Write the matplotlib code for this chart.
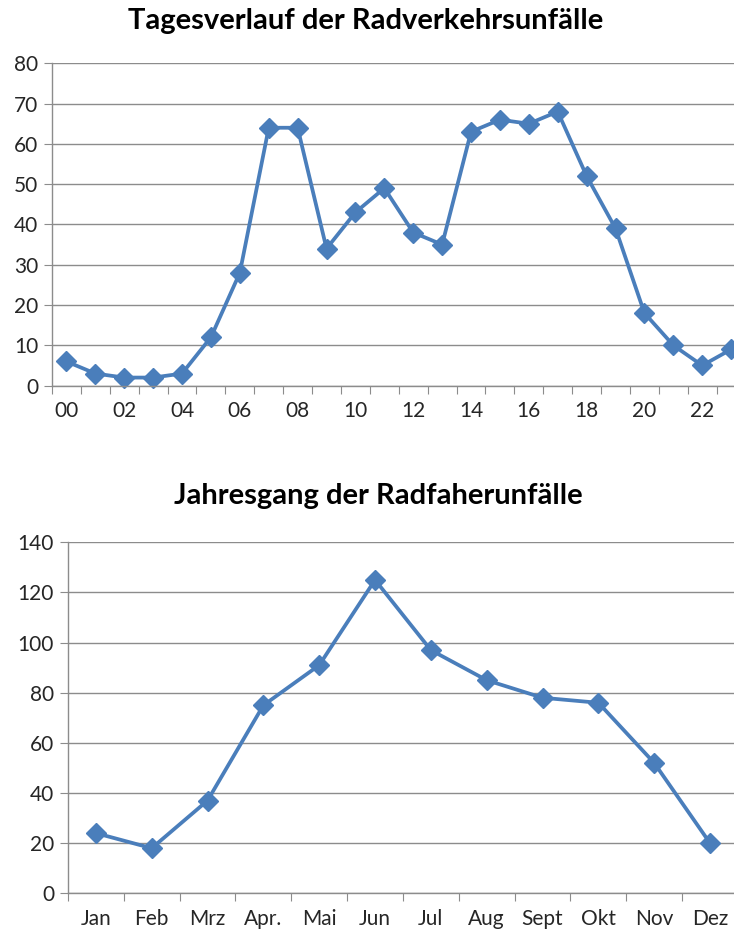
import numpy as np
import matplotlib.pyplot as plt

plt.rcParams['font.family'] = ['Lato', 'DejaVu Sans']

# Tagesverlauf (Stunden)
hours = ['00', '01', '02', '03', '04', '05', '06', '07', '08', '09', '10', '11',
         '12', '13', '14', '15', '16', '17', '18', '19', '20', '21', '22', '23']
hour_values = [6, 3, 2, 2, 3, 12, 28, 64, 64, 34, 43, 49,
               38, 35, 63, 66, 65, 68, 52, 39, 18, 10, 5, 9]

# Jahresgang (Monate)
months = ['Jan', 'Feb', 'Mrz', 'Apr.', 'Mai', 'Jun', 'Jul', 'Aug', 'Sept', 'Okt', 'Nov', 'Dez']
month_values = [24, 18, 37, 75, 91, 125, 97, 85, 78, 76, 52, 20]

line_color = '#4A7EBB'
grid_color = '#8C8C8C'
text_color = '#262626'

fig = plt.figure(figsize=(7.34, 9.36), dpi=100)


def style_axes(ax, n, ymax, step, labels, label_every):
    ax.set_xlim(0, n)
    ax.set_ylim(0, ymax)
    ax.set_yticks(np.arange(0, ymax + 1, step))
    ax.yaxis.grid(True, color=grid_color, linewidth=1)
    ax.set_axisbelow(True)
    for s in ['top', 'right']:
        ax.spines[s].set_visible(False)
    for s in ['left', 'bottom']:
        ax.spines[s].set_color(grid_color)
        ax.spines[s].set_linewidth(1)
    # Striche an den Kategoriegrenzen, Beschriftung in der Mitte
    ax.set_xticks(np.arange(0, n + 1))
    ax.set_xticklabels([])
    ax.tick_params(axis='x', which='major', length=6, color=grid_color, direction='out')
    centers = np.arange(0, n, label_every) + 0.5
    ax.set_xticks(centers, minor=True)
    ax.set_xticklabels(labels[::label_every], minor=True)
    ax.tick_params(axis='x', which='minor', length=0, pad=11, labelsize=15, labelcolor=text_color)
    ax.tick_params(axis='y', length=6, color=grid_color, labelsize=15, labelcolor=text_color, pad=4)


ax1 = fig.add_axes([0.0708, 0.588, 0.945, 0.3444])
x1 = np.arange(len(hours)) + 0.5
ax1.plot(x1, hour_values, color=line_color, linewidth=2.7, marker='D', markersize=10, clip_on=False)
style_axes(ax1, len(hours), 80, 10, hours, 2)
fig.text(0.4986, 0.978, 'Tagesverlauf der Radverkehrsunfälle', ha='center', va='center',
         fontsize=21, fontweight='bold', color='black')

ax2 = fig.add_axes([0.0926, 0.0456, 0.9128, 0.375])
x2 = np.arange(len(months)) + 0.5
ax2.plot(x2, month_values, color=line_color, linewidth=2.7, marker='D', markersize=10, clip_on=False)
style_axes(ax2, len(months), 140, 20, months, 1)
fig.text(0.515, 0.470, 'Jahresgang der Radfaherunfälle', ha='center', va='center',
         fontsize=21, fontweight='bold', color='black')

plt.savefig('out.png', dpi=100)
